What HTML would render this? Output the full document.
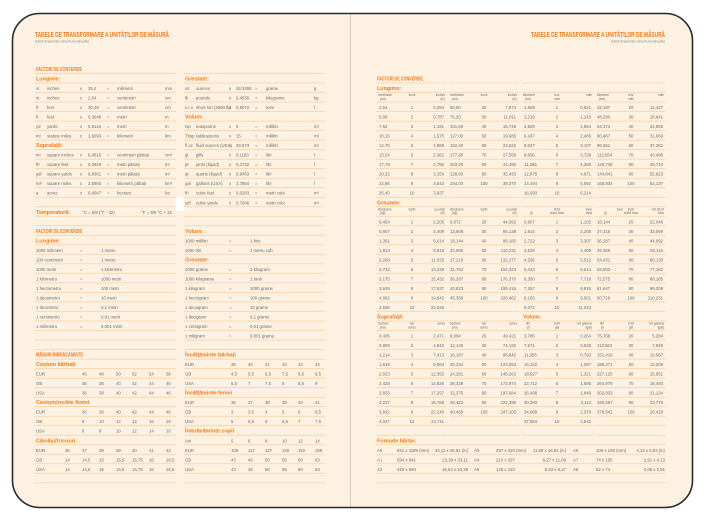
<!DOCTYPE html>
<html><head><meta charset="utf-8"><style>
html,body{margin:0;padding:0;background:#fff;width:706px;height:521px;overflow:hidden}
svg{display:block}
text{font-family:"Liberation Sans Narrow","Liberation Sans",sans-serif;fill:#6a6a6a;font-size:4.3px}
.o{fill:#f27c1e;font-size:5.4px;font-weight:bold}
.h{fill:#f27c1e;font-size:5px;font-weight:bold}
.t{fill:#f27c1e;font-size:7.4px;font-weight:bold}
.s{font-size:2.8px;fill:#777}
.c{font-size:3.2px}
.m{text-anchor:middle}
.e{text-anchor:end}
</style></head><body>
<svg width="706" height="521" viewBox="0 0 706 521" xmlns="http://www.w3.org/2000/svg">
<defs>
<pattern id="rl" x="0" y="83.3" width="10" height="9.52" patternUnits="userSpaceOnUse">
<rect x="0" y="8.92" width="10" height="0.8" fill="#f9c58c"/>
</pattern>
</defs>
<rect x="12.5" y="13.5" width="680" height="494" rx="27" ry="27" fill="#fdf2e2" stroke="#2a2a2a" stroke-width="1.6"/>
<line x1="350.5" y1="14.5" x2="350.5" y2="506.5" stroke="#c9c2b8" stroke-width="0.8"/>
<!-- ruled lines left page -->
<rect x="35" y="73" width="141" height="411" fill="url(#rl)"/>
<rect x="184" y="73" width="141" height="411" fill="url(#rl)"/>
<rect x="175.7" y="196.7" width="7.6" height="14" fill="#fff"/>
<!-- ruled lines right page -->
<rect x="376" y="82.5" width="71" height="354" fill="url(#rl)"/>
<rect x="449" y="82.5" width="70" height="354" fill="url(#rl)"/>
<rect x="522" y="82.5" width="71" height="354" fill="url(#rl)"/>
<rect x="596" y="82.5" width="69" height="354" fill="url(#rl)"/>
<rect x="376" y="436" width="289" height="48" fill="url(#rl)"/>

<!-- LEFT PAGE -->
<text class="t" x="35" y="37" textLength="134" lengthAdjust="spacingAndGlyphs">TABELE DE TRANSFORMARE A UNITĂȚILOR DE MĂSURĂ</text>
<text class="s" x="35" y="42.5" textLength="54" lengthAdjust="spacingAndGlyphs">PERIOD OF MEASURES / WEIGHTS AND MEASURES</text>
<text class="h" x="36" y="71" textLength="46" lengthAdjust="spacingAndGlyphs">FACTORI DE CONVERSIE</text>
<text class="o" x="36" y="80.5">Lungime:</text><text class="o" x="185" y="80.5">Greutate:</text>

<text y="90"><tspan x="36">in</tspan><tspan x="47">inches</tspan><tspan x="80">x</tspan><tspan x="88">25,4</tspan><tspan x="107">=</tspan><tspan x="117">milimetri</tspan><tspan x="165">mm</tspan><tspan x="185">oz</tspan><tspan x="196">ounces</tspan><tspan x="229">x</tspan><tspan x="236">28,3495</tspan><tspan x="255">=</tspan><tspan x="266">grame</tspan><tspan x="314">g</tspan></text>
<text y="99.5"><tspan x="36">in</tspan><tspan x="47">inches</tspan><tspan x="80">x</tspan><tspan x="88">2,54</tspan><tspan x="107">=</tspan><tspan x="117">centimetri</tspan><tspan x="165">cm</tspan><tspan x="185">lb</tspan><tspan x="196">pounds</tspan><tspan x="229">x</tspan><tspan x="236">0,4536</tspan><tspan x="255">=</tspan><tspan x="266">kilograme</tspan><tspan x="314">kg</tspan></text>
<text y="109.1"><tspan x="36">ft</tspan><tspan x="47">feet</tspan><tspan x="80">x</tspan><tspan x="88">30,48</tspan><tspan x="107">=</tspan><tspan x="117">centimetri</tspan><tspan x="165">cm</tspan><tspan x="185">s.t.n</tspan><tspan x="196">short ton (2000 lb)</tspan><tspan x="229">x</tspan><tspan x="236">0,9072</tspan><tspan x="255">=</tspan><tspan x="266">tone</tspan><tspan x="314">t</tspan></text>
<text y="118.6"><tspan x="36">ft</tspan><tspan x="47">feet</tspan><tspan x="80">x</tspan><tspan x="88">0,3048</tspan><tspan x="107">=</tspan><tspan x="117">metri</tspan><tspan x="165">m</tspan></text>
<text class="o" x="185" y="118.6">Volum:</text>
<text y="128.1"><tspan x="36">yd</tspan><tspan x="47">yards</tspan><tspan x="80">x</tspan><tspan x="88">0,9144</tspan><tspan x="107">=</tspan><tspan x="117">metri</tspan><tspan x="165">m</tspan><tspan x="185">tsp</tspan><tspan x="196">teaspoons</tspan><tspan x="229">x</tspan><tspan x="236">5</tspan><tspan x="255">=</tspan><tspan x="266">mililitri</tspan><tspan x="314">ml</tspan></text>
<text y="137.6"><tspan x="36">mi</tspan><tspan x="47">statute miles</tspan><tspan x="80">x</tspan><tspan x="88">1,6093</tspan><tspan x="107">=</tspan><tspan x="117">kilometri</tspan><tspan x="165">km</tspan><tspan x="185">Tbsp</tspan><tspan x="196">tablespoons</tspan><tspan x="229">x</tspan><tspan x="236">15</tspan><tspan x="255">=</tspan><tspan x="266">mililitri</tspan><tspan x="314">ml</tspan></text>
<text class="o" x="36" y="147.1">Suprafață:</text>
<text y="147.1"><tspan x="185">fl oz</tspan><tspan x="196">fluid ounces (USA)</tspan><tspan x="229">x</tspan><tspan x="236">29,573</tspan><tspan x="255">=</tspan><tspan x="266">mililitri</tspan><tspan x="314">ml</tspan></text>
<text y="156.7"><tspan x="36">in²</tspan><tspan x="47">square inches</tspan><tspan x="80">x</tspan><tspan x="88">6,4516</tspan><tspan x="107">=</tspan><tspan x="117">centimetri pătrați</tspan><tspan x="165">cm²</tspan><tspan x="185">gl</tspan><tspan x="196">gills</tspan><tspan x="229">x</tspan><tspan x="236">0,1183</tspan><tspan x="255">=</tspan><tspan x="266">litri</tspan><tspan x="314">l</tspan></text>
<text y="166.2"><tspan x="36">ft²</tspan><tspan x="47">square feet</tspan><tspan x="80">x</tspan><tspan x="88">0,0929</tspan><tspan x="107">=</tspan><tspan x="117">metri pătrați</tspan><tspan x="165">m²</tspan><tspan x="185">pt</tspan><tspan x="196">pints (liquid)</tspan><tspan x="229">x</tspan><tspan x="236">0,4732</tspan><tspan x="255">=</tspan><tspan x="266">litri</tspan><tspan x="314">l</tspan></text>
<text y="175.7"><tspan x="36">yd²</tspan><tspan x="47">square yards</tspan><tspan x="80">x</tspan><tspan x="88">0,8361</tspan><tspan x="107">=</tspan><tspan x="117">metri pătrați</tspan><tspan x="165">m²</tspan><tspan x="185">qt</tspan><tspan x="196">quarts (liquid)</tspan><tspan x="229">x</tspan><tspan x="236">0,9463</tspan><tspan x="255">=</tspan><tspan x="266">litri</tspan><tspan x="314">l</tspan></text>
<text y="185.2"><tspan x="36">mi²</tspan><tspan x="47">square miles</tspan><tspan x="80">x</tspan><tspan x="88">2,5900</tspan><tspan x="107">=</tspan><tspan x="117">kilometri pătrați</tspan><tspan x="165">km²</tspan><tspan x="185">gal</tspan><tspan x="196">gallons (USA)</tspan><tspan x="229">x</tspan><tspan x="236">3,7854</tspan><tspan x="255">=</tspan><tspan x="266">litri</tspan><tspan x="314">l</tspan></text>
<text y="194.7"><tspan x="36">a</tspan><tspan x="47">acres</tspan><tspan x="80">x</tspan><tspan x="88">0,4047</tspan><tspan x="107">=</tspan><tspan x="117">hectare</tspan><tspan x="165">ha</tspan><tspan x="185">ft³</tspan><tspan x="196">cubic feet</tspan><tspan x="229">x</tspan><tspan x="236">0,0283</tspan><tspan x="255">=</tspan><tspan x="266">metri cubi</tspan><tspan x="314">m³</tspan></text>
<text y="204.3"><tspan x="185">yd³</tspan><tspan x="196">cubic yards</tspan><tspan x="229">x</tspan><tspan x="236">0,7646</tspan><tspan x="255">=</tspan><tspan x="266">metri cubi</tspan><tspan x="314">m³</tspan></text>
<text class="o" x="36" y="213.8">Temperatură:</text>
<text y="213.8"><tspan x="82">°C = 5/9 (°F - 32)</tspan><tspan x="141">°F = 9/5 °C + 32</tspan></text>

<text class="h" x="36" y="232.8" textLength="46" lengthAdjust="spacingAndGlyphs">FACTORI DE CONVERSIE</text>
<text class="o" x="185" y="232.8">Volum:</text>
<text class="o" x="36" y="242.3">Lungime:</text>
<text y="242.3"><tspan x="185">1000 mililitri</tspan><tspan x="229">=</tspan><tspan x="250">1 litru</tspan></text>
<text y="251.9"><tspan x="36">1000 milimetri</tspan><tspan x="80">=</tspan><tspan x="101">1 metru</tspan><tspan x="185">1000 litri</tspan><tspan x="229">=</tspan><tspan x="250">1 metru cub</tspan></text>
<text y="261.4"><tspan x="36">100 centimetri</tspan><tspan x="80">=</tspan><tspan x="101">1 metru</tspan></text>
<text class="o" x="185" y="261.4">Greutate:</text>
<text y="270.9"><tspan x="36">1000 metri</tspan><tspan x="80">=</tspan><tspan x="101">1 kilometru</tspan><tspan x="185">1000 grame</tspan><tspan x="229">=</tspan><tspan x="250">1 kilogram</tspan></text>
<text y="280.4"><tspan x="36">1 kilometru</tspan><tspan x="80">=</tspan><tspan x="101">1000 metri</tspan><tspan x="185">1000 kilograme</tspan><tspan x="229">=</tspan><tspan x="250">1 tonă</tspan></text>
<text y="289.9"><tspan x="36">1 hectometru</tspan><tspan x="80">=</tspan><tspan x="101">100 metri</tspan><tspan x="185">1 kilogram</tspan><tspan x="229">=</tspan><tspan x="250">1000 grame</tspan></text>
<text y="299.5"><tspan x="36">1 decametru</tspan><tspan x="80">=</tspan><tspan x="101">10 metri</tspan><tspan x="185">1 hectogram</tspan><tspan x="229">=</tspan><tspan x="250">100 grame</tspan></text>
<text y="309"><tspan x="36">1 decimetru</tspan><tspan x="80">=</tspan><tspan x="101">0,1 metri</tspan><tspan x="185">1 decagram</tspan><tspan x="229">=</tspan><tspan x="250">10 grame</tspan></text>
<text y="318.5"><tspan x="36">1 centimetru</tspan><tspan x="80">=</tspan><tspan x="101">0,01 metri</tspan><tspan x="185">1 decigram</tspan><tspan x="229">=</tspan><tspan x="250">0,1 grame</tspan></text>
<text y="328"><tspan x="36">1 milimetru</tspan><tspan x="80">=</tspan><tspan x="101">0,001 metri</tspan><tspan x="185">1 centigram</tspan><tspan x="229">=</tspan><tspan x="250">0,01 grame</tspan></text>
<text y="337.5"><tspan x="185">1 miligram</tspan><tspan x="229">=</tspan><tspan x="250">0,001 grame</tspan></text>

<text class="h" x="36" y="356.6" textLength="47" lengthAdjust="spacingAndGlyphs">MĂSURI ÎMBRĂCĂMINTE</text>
<text class="o" x="185" y="356.6">Încălțăminte bărbați</text>
<text class="o" x="36" y="366.1">Costum bărbați</text>
<text y="366.1"><tspan x="185">EUR</tspan><tspan x="231">39</tspan><tspan x="248">40</tspan><tspan x="265">41</tspan><tspan x="282">42</tspan><tspan x="298">43</tspan><tspan x="315">44</tspan></text>
<text y="375.6"><tspan x="36">EUR</tspan><tspan x="82">46</tspan><tspan x="99">48</tspan><tspan x="116">50</tspan><tspan x="132">52</tspan><tspan x="149">54</tspan><tspan x="166">56</tspan><tspan x="185">GB</tspan><tspan x="231">4,5</tspan><tspan x="248">5,5</tspan><tspan x="265">6,5</tspan><tspan x="282">7,5</tspan><tspan x="298">8,5</tspan><tspan x="315">9,5</tspan></text>
<text y="385.1"><tspan x="36">GB</tspan><tspan x="82">36</tspan><tspan x="99">38</tspan><tspan x="116">40</tspan><tspan x="132">42</tspan><tspan x="149">44</tspan><tspan x="166">46</tspan><tspan x="185">USA</tspan><tspan x="231">6,5</tspan><tspan x="248">7</tspan><tspan x="265">7,5</tspan><tspan x="282">8</tspan><tspan x="298">8,5</tspan><tspan x="315">9</tspan></text>
<text y="394.7"><tspan x="36">USA</tspan><tspan x="82">36</tspan><tspan x="99">38</tspan><tspan x="116">40</tspan><tspan x="132">42</tspan><tspan x="149">44</tspan><tspan x="166">46</tspan></text>
<text class="o" x="185" y="394.7">Încălțăminte femei</text>
<text class="o" x="36" y="404.2">Costum/rochie femei</text>
<text y="404.2"><tspan x="185">EUR</tspan><tspan x="231">36</tspan><tspan x="248">37</tspan><tspan x="265">38</tspan><tspan x="282">39</tspan><tspan x="298">40</tspan><tspan x="315">41</tspan></text>
<text y="413.7"><tspan x="36">EUR</tspan><tspan x="82">36</tspan><tspan x="99">38</tspan><tspan x="116">40</tspan><tspan x="132">42</tspan><tspan x="149">44</tspan><tspan x="166">46</tspan><tspan x="185">GB</tspan><tspan x="231">3</tspan><tspan x="248">3,5</tspan><tspan x="265">4</tspan><tspan x="282">5</tspan><tspan x="298">6</tspan><tspan x="315">6,5</tspan></text>
<text y="423.2"><tspan x="36">GB</tspan><tspan x="82">8</tspan><tspan x="99">10</tspan><tspan x="116">12</tspan><tspan x="132">14</tspan><tspan x="149">16</tspan><tspan x="166">18</tspan><tspan x="185">USA</tspan><tspan x="231">5</tspan><tspan x="248">5,5</tspan><tspan x="265">6</tspan><tspan x="282">6,5</tspan><tspan x="298">7</tspan><tspan x="315">7,5</tspan></text>
<text y="432.7"><tspan x="36">USA</tspan><tspan x="82">6</tspan><tspan x="99">8</tspan><tspan x="116">10</tspan><tspan x="132">12</tspan><tspan x="149">14</tspan><tspan x="166">16</tspan></text>
<text class="o" x="185" y="432.7">Îmbrăcăminte copii</text>
<text class="o" x="36" y="442.3">Cămăși/tricouri</text>
<text y="442.3"><tspan x="185">Ani</tspan><tspan x="231">5</tspan><tspan x="248">6</tspan><tspan x="265">8</tspan><tspan x="282">10</tspan><tspan x="298">12</tspan><tspan x="315">14</tspan></text>
<text y="451.8"><tspan x="36">EUR</tspan><tspan x="65">36</tspan><tspan x="82">37</tspan><tspan x="99">38</tspan><tspan x="116">39</tspan><tspan x="132">40</tspan><tspan x="149">41</tspan><tspan x="166">42</tspan><tspan x="185">EUR</tspan><tspan x="231">109</tspan><tspan x="248">117</tspan><tspan x="265">127</tspan><tspan x="282">140</tspan><tspan x="298">152</tspan><tspan x="315">168</tspan></text>
<text y="461.3"><tspan x="36">GB</tspan><tspan x="65">14</tspan><tspan x="82">14,5</tspan><tspan x="99">15</tspan><tspan x="116">15,5</tspan><tspan x="132">15,75</tspan><tspan x="149">16</tspan><tspan x="166">16,5</tspan><tspan x="185">GB</tspan><tspan x="231">43</tspan><tspan x="248">46</tspan><tspan x="265">50</tspan><tspan x="282">55</tspan><tspan x="298">60</tspan><tspan x="315">63</tspan></text>
<text y="470.8"><tspan x="36">USA</tspan><tspan x="65">14</tspan><tspan x="82">14,5</tspan><tspan x="99">15</tspan><tspan x="116">15,5</tspan><tspan x="132">15,75</tspan><tspan x="149">16</tspan><tspan x="166">16,5</tspan><tspan x="185">USA</tspan><tspan x="231">43</tspan><tspan x="248">46</tspan><tspan x="265">50</tspan><tspan x="282">55</tspan><tspan x="298">60</tspan><tspan x="315">63</tspan></text>

<!-- RIGHT PAGE -->
<text class="t e" x="665" y="37" textLength="134" lengthAdjust="spacingAndGlyphs">TABELE DE TRANSFORMARE A UNITĂȚILOR DE MĂSURĂ</text>
<text class="s e" x="665" y="42.5" textLength="54" lengthAdjust="spacingAndGlyphs">PERIOD OF MEASURES / WEIGHTS AND MEASURES</text>
<text class="h" x="377" y="80.5" textLength="46" lengthAdjust="spacingAndGlyphs">FACTORI DE CONVERSIE</text>
<text class="o" x="377" y="90">Lungime:</text>
<text class="c" y="96.2"><tspan x="378">centimetri</tspan><tspan x="412" class="m">inchi</tspan><tspan x="445" class="e">inches</tspan><tspan x="450">centimetri</tspan><tspan x="484" class="m">inchi</tspan><tspan x="517" class="e">inches</tspan><tspan x="523">kilometri</tspan><tspan x="557" class="m">km/</tspan><tspan x="592" class="e">mile</tspan><tspan x="597">kilometri</tspan><tspan x="631" class="m">km/</tspan><tspan x="664" class="e">mile</tspan></text>
<text class="c" y="99.8"><tspan x="380">(cm)</tspan><tspan x="445" class="e">(in)</tspan><tspan x="452">(cm)</tspan><tspan x="517" class="e">(in)</tspan><tspan x="525">(km)</tspan><tspan x="557" class="m">mile</tspan><tspan x="599">(km)</tspan><tspan x="631" class="m">mile</tspan></text>
<text y="109.1"><tspan x="379">2,54</tspan><tspan x="412" class="m">1</tspan><tspan x="444" class="e">0,394</tspan><tspan x="450">50,80</tspan><tspan x="484" class="m">20</tspan><tspan x="516" class="e">7,874</tspan><tspan x="524">1,609</tspan><tspan x="557" class="m">1</tspan><tspan x="591" class="e">0,621</tspan><tspan x="597">32,187</tspan><tspan x="631" class="m">20</tspan><tspan x="663" class="e">12,427</tspan></text>
<text y="118.6"><tspan x="379">5,08</tspan><tspan x="412" class="m">2</tspan><tspan x="444" class="e">0,787</tspan><tspan x="450">76,20</tspan><tspan x="484" class="m">30</tspan><tspan x="516" class="e">11,811</tspan><tspan x="524">3,219</tspan><tspan x="557" class="m">2</tspan><tspan x="591" class="e">1,243</tspan><tspan x="597">48,280</tspan><tspan x="631" class="m">30</tspan><tspan x="663" class="e">18,641</tspan></text>
<text y="128.1"><tspan x="379">7,62</tspan><tspan x="412" class="m">3</tspan><tspan x="444" class="e">1,181</tspan><tspan x="450">101,60</tspan><tspan x="484" class="m">40</tspan><tspan x="516" class="e">15,748</tspan><tspan x="524">4,828</tspan><tspan x="557" class="m">3</tspan><tspan x="591" class="e">1,864</tspan><tspan x="597">64,374</tspan><tspan x="631" class="m">40</tspan><tspan x="663" class="e">24,855</tspan></text>
<text y="137.6"><tspan x="379">10,16</tspan><tspan x="412" class="m">4</tspan><tspan x="444" class="e">1,575</tspan><tspan x="450">127,00</tspan><tspan x="484" class="m">50</tspan><tspan x="516" class="e">19,685</tspan><tspan x="524">6,437</tspan><tspan x="557" class="m">4</tspan><tspan x="591" class="e">2,485</tspan><tspan x="597">80,467</tspan><tspan x="631" class="m">50</tspan><tspan x="663" class="e">31,069</tspan></text>
<text y="147.1"><tspan x="379">12,70</tspan><tspan x="412" class="m">5</tspan><tspan x="444" class="e">1,969</tspan><tspan x="450">152,40</tspan><tspan x="484" class="m">60</tspan><tspan x="516" class="e">23,622</tspan><tspan x="524">8,047</tspan><tspan x="557" class="m">5</tspan><tspan x="591" class="e">3,107</tspan><tspan x="597">96,561</tspan><tspan x="631" class="m">60</tspan><tspan x="663" class="e">37,282</tspan></text>
<text y="156.7"><tspan x="379">15,24</tspan><tspan x="412" class="m">6</tspan><tspan x="444" class="e">2,362</tspan><tspan x="450">177,80</tspan><tspan x="484" class="m">70</tspan><tspan x="516" class="e">27,559</tspan><tspan x="524">9,656</tspan><tspan x="557" class="m">6</tspan><tspan x="591" class="e">3,728</tspan><tspan x="597">112,654</tspan><tspan x="631" class="m">70</tspan><tspan x="663" class="e">43,496</tspan></text>
<text y="166.2"><tspan x="379">17,78</tspan><tspan x="412" class="m">7</tspan><tspan x="444" class="e">2,756</tspan><tspan x="450">203,20</tspan><tspan x="484" class="m">80</tspan><tspan x="516" class="e">31,496</tspan><tspan x="524">11,265</tspan><tspan x="557" class="m">7</tspan><tspan x="591" class="e">4,350</tspan><tspan x="597">128,748</tspan><tspan x="631" class="m">80</tspan><tspan x="663" class="e">49,710</tspan></text>
<text y="175.7"><tspan x="379">20,32</tspan><tspan x="412" class="m">8</tspan><tspan x="444" class="e">3,150</tspan><tspan x="450">228,60</tspan><tspan x="484" class="m">90</tspan><tspan x="516" class="e">35,433</tspan><tspan x="524">12,875</tspan><tspan x="557" class="m">8</tspan><tspan x="591" class="e">4,971</tspan><tspan x="597">144,841</tspan><tspan x="631" class="m">90</tspan><tspan x="663" class="e">55,923</tspan></text>
<text y="185.2"><tspan x="379">22,86</tspan><tspan x="412" class="m">9</tspan><tspan x="444" class="e">3,543</tspan><tspan x="450">254,00</tspan><tspan x="484" class="m">100</tspan><tspan x="516" class="e">39,370</tspan><tspan x="524">14,484</tspan><tspan x="557" class="m">9</tspan><tspan x="591" class="e">5,592</tspan><tspan x="597">160,934</tspan><tspan x="631" class="m">100</tspan><tspan x="663" class="e">62,137</tspan></text>
<text y="194.7"><tspan x="379">25,40</tspan><tspan x="412" class="m">10</tspan><tspan x="444" class="e">3,937</tspan><tspan x="524">16,093</tspan><tspan x="557" class="m">10</tspan><tspan x="591" class="e">6,214</tspan></text>

<text class="o" x="377" y="204.3">Greutate:</text>
<text class="c" y="210.5"><tspan x="378">kilograme</tspan><tspan x="412" class="m">kg/lb</tspan><tspan x="445" class="e">pounds</tspan><tspan x="450">kilograme</tspan><tspan x="484" class="m">kg/lb</tspan><tspan x="517" class="e">pounds</tspan><tspan x="592" class="e">tone</tspan><tspan x="557" class="m">t/US</tspan><tspan x="557" class="m"></tspan><tspan x="631" class="m">t/US</tspan><tspan x="664" class="e">US short</tspan><tspan x="623" class="e">tone</tspan></text>
<text class="c" y="214.1"><tspan x="380">(kg)</tspan><tspan x="445" class="e">(lb)</tspan><tspan x="452">(kg)</tspan><tspan x="517" class="e">(lb)</tspan><tspan x="530">(t)</tspan><tspan x="557" class="m">short tons</tspan><tspan x="592" class="e">tons</tspan><tspan x="604">(t)</tspan><tspan x="631" class="m">short tons</tspan><tspan x="664" class="e">tons</tspan></text>
<text y="223.3"><tspan x="379">0,454</tspan><tspan x="412" class="m">1</tspan><tspan x="444" class="e">2,205</tspan><tspan x="450">9,072</tspan><tspan x="484" class="m">20</tspan><tspan x="516" class="e">44,092</tspan><tspan x="524">0,907</tspan><tspan x="557" class="m">1</tspan><tspan x="591" class="e">1,102</tspan><tspan x="597">18,144</tspan><tspan x="631" class="m">20</tspan><tspan x="663" class="e">22,046</tspan></text>
<text y="232.8"><tspan x="379">0,907</tspan><tspan x="412" class="m">2</tspan><tspan x="444" class="e">4,409</tspan><tspan x="450">13,608</tspan><tspan x="484" class="m">30</tspan><tspan x="516" class="e">66,139</tspan><tspan x="524">1,814</tspan><tspan x="557" class="m">2</tspan><tspan x="591" class="e">2,205</tspan><tspan x="597">27,216</tspan><tspan x="631" class="m">30</tspan><tspan x="663" class="e">33,069</tspan></text>
<text y="242.3"><tspan x="379">1,361</tspan><tspan x="412" class="m">3</tspan><tspan x="444" class="e">6,614</tspan><tspan x="450">18,144</tspan><tspan x="484" class="m">40</tspan><tspan x="516" class="e">88,185</tspan><tspan x="524">2,722</tspan><tspan x="557" class="m">3</tspan><tspan x="591" class="e">3,307</tspan><tspan x="597">36,287</tspan><tspan x="631" class="m">40</tspan><tspan x="663" class="e">44,092</tspan></text>
<text y="251.9"><tspan x="379">1,814</tspan><tspan x="412" class="m">4</tspan><tspan x="444" class="e">8,819</tspan><tspan x="450">22,680</tspan><tspan x="484" class="m">50</tspan><tspan x="516" class="e">110,231</tspan><tspan x="524">3,629</tspan><tspan x="557" class="m">4</tspan><tspan x="591" class="e">4,409</tspan><tspan x="597">45,359</tspan><tspan x="631" class="m">50</tspan><tspan x="663" class="e">55,116</tspan></text>
<text y="261.4"><tspan x="379">2,268</tspan><tspan x="412" class="m">5</tspan><tspan x="444" class="e">11,023</tspan><tspan x="450">27,216</tspan><tspan x="484" class="m">60</tspan><tspan x="516" class="e">132,277</tspan><tspan x="524">4,536</tspan><tspan x="557" class="m">5</tspan><tspan x="591" class="e">5,512</tspan><tspan x="597">54,431</tspan><tspan x="631" class="m">60</tspan><tspan x="663" class="e">66,139</tspan></text>
<text y="270.9"><tspan x="379">2,722</tspan><tspan x="412" class="m">6</tspan><tspan x="444" class="e">13,228</tspan><tspan x="450">31,752</tspan><tspan x="484" class="m">70</tspan><tspan x="516" class="e">154,324</tspan><tspan x="524">5,443</tspan><tspan x="557" class="m">6</tspan><tspan x="591" class="e">6,614</tspan><tspan x="597">63,503</tspan><tspan x="631" class="m">70</tspan><tspan x="663" class="e">77,162</tspan></text>
<text y="280.4"><tspan x="379">3,175</tspan><tspan x="412" class="m">7</tspan><tspan x="444" class="e">15,432</tspan><tspan x="450">36,287</tspan><tspan x="484" class="m">80</tspan><tspan x="516" class="e">176,370</tspan><tspan x="524">6,350</tspan><tspan x="557" class="m">7</tspan><tspan x="591" class="e">7,716</tspan><tspan x="597">72,575</tspan><tspan x="631" class="m">80</tspan><tspan x="663" class="e">88,185</tspan></text>
<text y="289.9"><tspan x="379">3,629</tspan><tspan x="412" class="m">8</tspan><tspan x="444" class="e">17,637</tspan><tspan x="450">40,823</tspan><tspan x="484" class="m">90</tspan><tspan x="516" class="e">198,416</tspan><tspan x="524">7,257</tspan><tspan x="557" class="m">8</tspan><tspan x="591" class="e">8,818</tspan><tspan x="597">81,647</tspan><tspan x="631" class="m">90</tspan><tspan x="663" class="e">99,208</tspan></text>
<text y="299.5"><tspan x="379">4,082</tspan><tspan x="412" class="m">9</tspan><tspan x="444" class="e">19,842</tspan><tspan x="450">45,359</tspan><tspan x="484" class="m">100</tspan><tspan x="516" class="e">220,462</tspan><tspan x="524">8,165</tspan><tspan x="557" class="m">9</tspan><tspan x="591" class="e">9,921</tspan><tspan x="597">90,719</tspan><tspan x="631" class="m">100</tspan><tspan x="663" class="e">110,231</tspan></text>
<text y="309"><tspan x="379">4,536</tspan><tspan x="412" class="m">10</tspan><tspan x="444" class="e">22,046</tspan><tspan x="524">9,072</tspan><tspan x="557" class="m">10</tspan><tspan x="591" class="e">11,023</tspan></text>

<text class="o" x="377" y="318.5">Suprafață:</text><text class="o" x="523" y="318.5">Volum:</text>
<text class="c" y="324.7"><tspan x="378">hectare</tspan><tspan x="412" class="m">ha/</tspan><tspan x="445" class="e">acres</tspan><tspan x="450">hectare</tspan><tspan x="484" class="m">ha/</tspan><tspan x="517" class="e">acres</tspan><tspan x="526">litri</tspan><tspan x="557" class="m">l/US</tspan><tspan x="592" class="e">US gallons</tspan><tspan x="600">litri</tspan><tspan x="631" class="m">l/US</tspan><tspan x="664" class="e">US gallons</tspan></text>
<text class="c" y="328.3"><tspan x="380">(ha)</tspan><tspan x="412" class="m">acres</tspan><tspan x="452">(ha)</tspan><tspan x="484" class="m">acres</tspan><tspan x="527">(l)</tspan><tspan x="557" class="m">gal</tspan><tspan x="592" class="e">(gal)</tspan><tspan x="601">(l)</tspan><tspan x="631" class="m">gal</tspan><tspan x="664" class="e">(gal)</tspan></text>
<text y="337.5"><tspan x="379">0,405</tspan><tspan x="412" class="m">1</tspan><tspan x="444" class="e">2,471</tspan><tspan x="450">8,094</tspan><tspan x="484" class="m">20</tspan><tspan x="516" class="e">49,421</tspan><tspan x="524">3,785</tspan><tspan x="557" class="m">1</tspan><tspan x="591" class="e">0,264</tspan><tspan x="597">75,708</tspan><tspan x="631" class="m">20</tspan><tspan x="663" class="e">5,284</tspan></text>
<text y="347.1"><tspan x="379">0,809</tspan><tspan x="412" class="m">2</tspan><tspan x="444" class="e">4,942</tspan><tspan x="450">12,140</tspan><tspan x="484" class="m">30</tspan><tspan x="516" class="e">74,132</tspan><tspan x="524">7,571</tspan><tspan x="557" class="m">2</tspan><tspan x="591" class="e">0,528</tspan><tspan x="597">113,562</tspan><tspan x="631" class="m">30</tspan><tspan x="663" class="e">7,925</tspan></text>
<text y="356.6"><tspan x="379">1,214</tspan><tspan x="412" class="m">3</tspan><tspan x="444" class="e">7,413</tspan><tspan x="450">16,187</tspan><tspan x="484" class="m">40</tspan><tspan x="516" class="e">98,842</tspan><tspan x="524">11,356</tspan><tspan x="557" class="m">3</tspan><tspan x="591" class="e">0,793</tspan><tspan x="597">151,416</tspan><tspan x="631" class="m">40</tspan><tspan x="663" class="e">10,567</tspan></text>
<text y="366.1"><tspan x="379">1,619</tspan><tspan x="412" class="m">4</tspan><tspan x="444" class="e">9,884</tspan><tspan x="450">20,234</tspan><tspan x="484" class="m">50</tspan><tspan x="516" class="e">123,553</tspan><tspan x="524">15,142</tspan><tspan x="557" class="m">4</tspan><tspan x="591" class="e">1,057</tspan><tspan x="597">189,271</tspan><tspan x="631" class="m">50</tspan><tspan x="663" class="e">13,209</tspan></text>
<text y="375.6"><tspan x="379">2,023</tspan><tspan x="412" class="m">5</tspan><tspan x="444" class="e">12,355</tspan><tspan x="450">24,281</tspan><tspan x="484" class="m">60</tspan><tspan x="516" class="e">148,263</tspan><tspan x="524">18,927</tspan><tspan x="557" class="m">5</tspan><tspan x="591" class="e">1,321</tspan><tspan x="597">227,125</tspan><tspan x="631" class="m">60</tspan><tspan x="663" class="e">15,851</tspan></text>
<text y="385.1"><tspan x="379">2,428</tspan><tspan x="412" class="m">6</tspan><tspan x="444" class="e">14,826</tspan><tspan x="450">28,328</tspan><tspan x="484" class="m">70</tspan><tspan x="516" class="e">172,974</tspan><tspan x="524">22,712</tspan><tspan x="557" class="m">6</tspan><tspan x="591" class="e">1,585</tspan><tspan x="597">264,979</tspan><tspan x="631" class="m">70</tspan><tspan x="663" class="e">18,493</tspan></text>
<text y="394.7"><tspan x="379">2,833</tspan><tspan x="412" class="m">7</tspan><tspan x="444" class="e">17,297</tspan><tspan x="450">32,375</tspan><tspan x="484" class="m">80</tspan><tspan x="516" class="e">197,684</tspan><tspan x="524">26,498</tspan><tspan x="557" class="m">7</tspan><tspan x="591" class="e">1,849</tspan><tspan x="597">302,833</tspan><tspan x="631" class="m">80</tspan><tspan x="663" class="e">21,134</tspan></text>
<text y="404.2"><tspan x="379">3,237</tspan><tspan x="412" class="m">8</tspan><tspan x="444" class="e">19,768</tspan><tspan x="450">36,422</tspan><tspan x="484" class="m">90</tspan><tspan x="516" class="e">222,395</tspan><tspan x="524">30,283</tspan><tspan x="557" class="m">8</tspan><tspan x="591" class="e">2,113</tspan><tspan x="597">340,687</tspan><tspan x="631" class="m">90</tspan><tspan x="663" class="e">23,776</tspan></text>
<text y="413.7"><tspan x="379">3,642</tspan><tspan x="412" class="m">9</tspan><tspan x="444" class="e">22,240</tspan><tspan x="450">40,469</tspan><tspan x="484" class="m">100</tspan><tspan x="516" class="e">247,105</tspan><tspan x="524">34,069</tspan><tspan x="557" class="m">9</tspan><tspan x="591" class="e">2,378</tspan><tspan x="597">378,541</tspan><tspan x="631" class="m">100</tspan><tspan x="663" class="e">26,418</tspan></text>
<text y="423.2"><tspan x="379">4,047</tspan><tspan x="412" class="m">10</tspan><tspan x="444" class="e">24,711</tspan><tspan x="524">37,854</tspan><tspan x="557" class="m">10</tspan><tspan x="591" class="e">2,642</tspan></text>

<text class="o" x="377" y="442.3">Formate hârtie:</text>
<text y="451.8"><tspan x="377">A0</tspan><tspan x="397">841 x 1189 (mm)</tspan><tspan x="468" class="e">33,11 x 46,81 (in)</tspan><tspan x="474">A3</tspan><tspan x="496">297 x 420 (mm)</tspan><tspan x="566" class="e">11,69 x 16,54 (in)</tspan><tspan x="573">A6</tspan><tspan x="596">105 x 148 (mm)</tspan><tspan x="665" class="e">4,13 x 5,83 (in)</tspan></text>
<text y="461.3"><tspan x="377">A1</tspan><tspan x="397">594 x 841</tspan><tspan x="468" class="e">23,39 x 33,11</tspan><tspan x="474">A4</tspan><tspan x="496">210 x 297</tspan><tspan x="566" class="e">8,27 x 11,69</tspan><tspan x="573">A7</tspan><tspan x="596">74 x 105</tspan><tspan x="665" class="e">2,91 x 4,13</tspan></text>
<text y="470.8"><tspan x="377">A2</tspan><tspan x="397">420 x 594</tspan><tspan x="468" class="e">16,54 x 23,39</tspan><tspan x="474">A5</tspan><tspan x="496">148 x 210</tspan><tspan x="566" class="e">5,83 x 8,27</tspan><tspan x="573">A8</tspan><tspan x="596">52 x 74</tspan><tspan x="665" class="e">2,05 x 2,91</tspan></text>
</svg>
</body></html>
